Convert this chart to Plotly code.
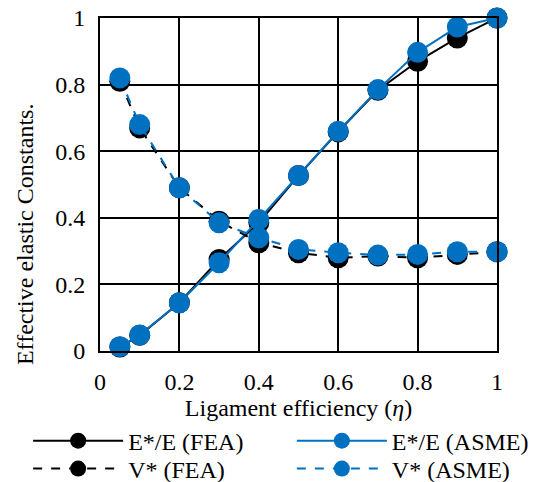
import plotly.graph_objects as go

eta = [0.05, 0.1, 0.2, 0.3, 0.4, 0.5, 0.6, 0.7, 0.8, 0.9, 1.0]
E_fea = [0.012, 0.047, 0.145, 0.275, 0.385, 0.527, 0.658, 0.783, 0.870, 0.940, 1.0]
E_asme = [0.013, 0.048, 0.145, 0.265, 0.395, 0.527, 0.660, 0.785, 0.897, 0.973, 1.0]
V_fea = [0.810, 0.670, 0.490, 0.390, 0.325, 0.295, 0.280, 0.285, 0.280, 0.290, 0.298]
V_asme = [0.820, 0.680, 0.490, 0.385, 0.340, 0.305, 0.295, 0.288, 0.290, 0.298, 0.298]
ticks = [0, 0.2, 0.4, 0.6, 0.8, 1]
tick_text = ["0", "0.2", "0.4", "0.6", "0.8", "1"]
x_title = "Ligament efficiency (<i>η</i>)"
y_title = "Effective elastic Constants."

BLUE = "#0070C0"
FONT = "Liberation Serif, Times New Roman, DejaVu Serif, serif"
FS = 24

fig = go.Figure()
fig.add_trace(go.Scatter(x=eta, y=E_fea, name="E*/E (FEA)", mode="lines+markers", legend="legend",
                         line=dict(color="black", width=2), marker=dict(color="black", size=21), cliponaxis=False))
fig.add_trace(go.Scatter(x=eta, y=E_asme, name="E*/E (ASME)", mode="lines+markers", legend="legend2",
                         line=dict(color=BLUE, width=2), marker=dict(color=BLUE, size=21), cliponaxis=False))
fig.add_trace(go.Scatter(x=eta, y=V_fea, name="V* (FEA)", mode="lines+markers", legend="legend3",
                         line=dict(color="black", width=2, dash="dash"), marker=dict(color="black", size=21), cliponaxis=False))
fig.add_trace(go.Scatter(x=eta, y=V_asme, name="V* (ASME)", mode="lines+markers", legend="legend4",
                         line=dict(color=BLUE, width=2, dash="dash"), marker=dict(color=BLUE, size=21), cliponaxis=False))

axis_common = dict(showgrid=True, gridcolor="black", gridwidth=1.5, showline=True, linecolor="black",
                   linewidth=2, mirror=True, zeroline=False, tickfont=dict(family=FONT, size=FS, color="black"),
                   ticks="", tickvals=ticks, ticktext=tick_text)
fig.update_xaxes(range=[0, 1], ticklabelstandoff=8,
                 title=dict(text=x_title, font=dict(family=FONT, size=FS, color="black"), standoff=0),
                 **axis_common)
fig.update_yaxes(range=[0, 1], ticklabelstandoff=8, **axis_common)

fig.add_annotation(text=y_title, xref="paper", yref="paper", x=-0.189, y=0.351,
                   xanchor="center", yanchor="middle", textangle=-90, showarrow=False,
                   font=dict(family=FONT, size=FS, color="black"))

leg_common = dict(orientation="v", yanchor="middle", xanchor="left", xref="container", yref="container",
                  bgcolor="rgba(0,0,0,0)", font=dict(family=FONT, size=FS, color="black"),
                  itemwidth=90, tracegroupgap=0)
fig.update_layout(
    width=541, height=482, margin=dict(l=100, r=44, t=18, b=131, autoexpand=False),
    plot_bgcolor="white", paper_bgcolor="white",
    font=dict(family=FONT, size=FS, color="black"),
    legend=dict(x=0.052, y=0.085, **leg_common),
    legend2=dict(x=0.5395, y=0.085, **leg_common),
    legend3=dict(x=0.052, y=0.027, **leg_common),
    legend4=dict(x=0.5395, y=0.027, **leg_common),
    showlegend=True,
)
fig.write_html("out.html")
